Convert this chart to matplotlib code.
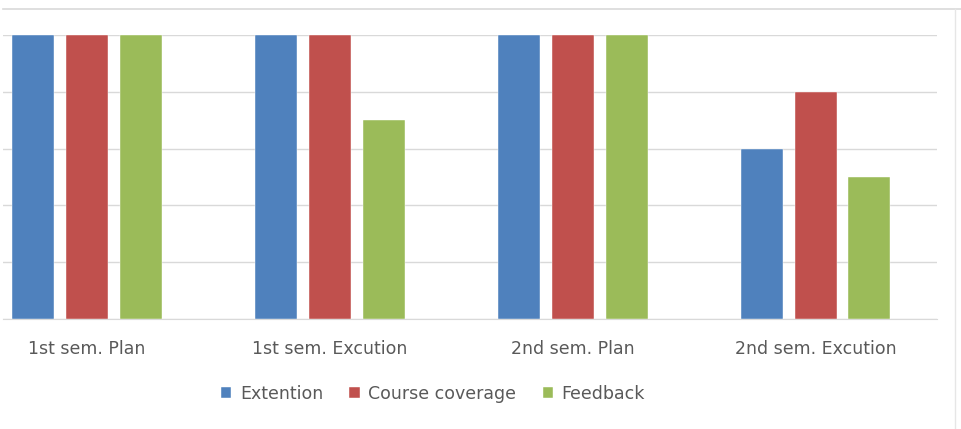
import numpy as np
import matplotlib.pyplot as plt
from matplotlib.lines import Line2D

categories = ['1st sem. Plan', '1st sem. Excution', '2nd sem. Plan', '2nd sem. Excution']
series_names = ['Extention', 'Course coverage', 'Feedback']
extention = [5, 5, 5, 3]
course_coverage = [5, 5, 5, 4]
feedback = [5, 3.5, 5, 2.5]
colors = ['#4F81BD', '#C0504D', '#9BBB59']

W, H = 961, 429
fig = plt.figure(figsize=(W / 100, H / 100), dpi=100)

# plot area (the left part is cropped in the reference)
ax = fig.add_axes([3 / W, 1 - 319 / H, (937 - 3) / W, (319 - 35) / H])

x = np.arange(len(categories))
width = 0.173
step = 0.222
for i, (vals, name) in enumerate(zip([extention, course_coverage, feedback], series_names)):
    ax.bar(x + (i - 1) * step, vals, width, color=colors[i], label=name,
           edgecolor='white', linewidth=0.3, zorder=3)

ax.set_xlim(-0.5 + 37.5 / 243, 3.5)
ax.set_ylim(0, 5)
ax.set_yticks([0, 1, 2, 3, 4, 5])
ax.set_yticklabels([])
ax.grid(axis='y', color='#d9d9d9', linewidth=1.0, zorder=0)
for s in ['left', 'right', 'top']:
    ax.spines[s].set_visible(False)
ax.spines['bottom'].set_color('#d9d9d9')
ax.tick_params(axis='both', length=0)
ax.set_xticks(x)
ax.set_xticklabels(categories, fontsize=12.5, color='#595959')
ax.tick_params(axis='x', pad=15)

leg = fig.legend(loc='center', bbox_to_anchor=(433 / W, 1 - 394 / H), ncol=3,
                 frameon=False, fontsize=12.5, handlelength=0.6, handleheight=0.6,
                 handletextpad=0.5, columnspacing=1.5)
for t in leg.get_texts():
    t.set_color('#595959')

# outer chart border pieces visible in the crop
fig.add_artist(Line2D([3 / W, 1], [1 - 8.5 / H, 1 - 8.5 / H], color='#d9d9d9', linewidth=1.2))
fig.add_artist(Line2D([955 / W, 955 / W], [0, 1 - 8.5 / H], color='#e6e6e6', linewidth=1.0))

fig.savefig('out.png', dpi=100)
